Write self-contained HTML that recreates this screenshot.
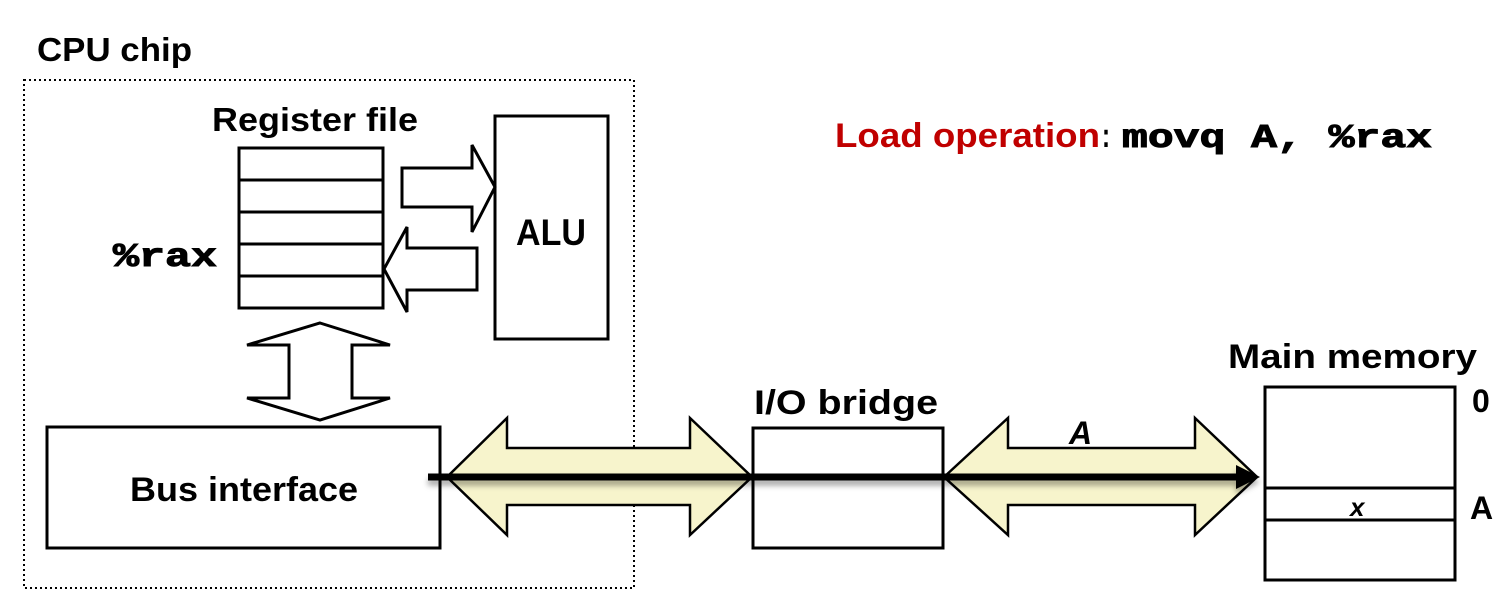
<!DOCTYPE html>
<html><head><meta charset="utf-8"><style>html,body{margin:0;padding:0;background:#fff}svg{display:block}</style></head><body>
<svg width="1512" height="611" viewBox="0 0 1512 611" xmlns="http://www.w3.org/2000/svg">
<defs>
<filter id="sh" x="-5%" y="-50%" width="110%" height="300%"><feDropShadow dx="0" dy="5" stdDeviation="3" flood-color="#000" flood-opacity="0.35"/></filter>
</defs>
<g font-family="Liberation Sans, sans-serif" font-weight="bold" fill="#000">
<rect x="24" y="80" width="610" height="508" fill="none" stroke="#000" stroke-width="2" stroke-dasharray="2,3"/>
<text x="37" y="61" font-size="33" textLength="155" lengthAdjust="spacingAndGlyphs">CPU chip</text>
<text x="212" y="131" font-size="33" textLength="206" lengthAdjust="spacingAndGlyphs">Register file</text>
<g fill="#fff" stroke="#000" stroke-width="3">
<rect x="239" y="148" width="144" height="160"/>
<line x1="239" y1="180" x2="383" y2="180"/><line x1="239" y1="212" x2="383" y2="212"/>
<line x1="239" y1="244" x2="383" y2="244"/><line x1="239" y1="276" x2="383" y2="276"/>
<rect x="495" y="116" width="113" height="223"/>
<polygon points="402,168 472,168 472,145 495,187 472,232 472,207 402,207"/>
<polygon points="477,248 407,248 407,227 384,269 407,312 407,290 477,290"/>
<polygon points="320,323 390,345 352,345 352,398 390,398 320,420 247,398 289,398 289,345 247,345"/>
<rect x="47" y="427" width="393" height="121"/>
<rect x="753" y="428" width="190" height="120"/>
<rect x="1265" y="387" width="190" height="193"/>
<line x1="1265" y1="488" x2="1455" y2="488"/><line x1="1265" y1="520" x2="1455" y2="520"/>
</g>
<g fill="#f7f4cc" stroke="#000" stroke-width="2.5">
<polygon points="447,477 507,418 507,448 690,448 690,418 752,477 690,535 690,505 507,505 507,535"/>
<polygon points="944,477 1008,418 1008,448 1195,448 1195,418 1257,477 1195,535 1195,505 1008,505 1008,535"/>
</g>
<g filter="url(#sh)">
<line x1="428" y1="477" x2="1240" y2="477" stroke="#000" stroke-width="7"/>
<polygon points="1236,465 1260,477 1236,489" fill="#000"/>
</g>
<text x="113" y="266" font-family="Liberation Mono, monospace" font-size="33" stroke="#000" stroke-width="1" textLength="104" lengthAdjust="spacingAndGlyphs">%rax</text>
<text x="516" y="245" font-size="37" textLength="70" lengthAdjust="spacingAndGlyphs">ALU</text>
<text x="130" y="501" font-size="34" textLength="228" lengthAdjust="spacingAndGlyphs">Bus interface</text>
<text x="754" y="414" font-size="34" textLength="184" lengthAdjust="spacingAndGlyphs">I/O bridge</text>
<text x="1069" y="444" font-size="32" font-style="italic">A</text>
<text x="1228" y="368" font-size="34" textLength="249" lengthAdjust="spacingAndGlyphs">Main memory</text>
<text x="1472" y="412" font-size="32">0</text>
<text x="1470" y="519" font-size="32">A</text>
<text x="1350" y="516" font-size="26" font-style="italic">x</text>
<text x="835" y="147" font-size="34" fill="#c00000" textLength="265" lengthAdjust="spacingAndGlyphs">Load operation</text>
<text x="1102" y="147" font-size="34" textLength="8" lengthAdjust="spacingAndGlyphs">:</text>
<text x="1122" y="147" font-family="Liberation Mono, monospace" font-size="33" stroke="#000" stroke-width="1" textLength="310" lengthAdjust="spacingAndGlyphs">movq A, %rax</text>
</g>
</svg>
</body></html>
